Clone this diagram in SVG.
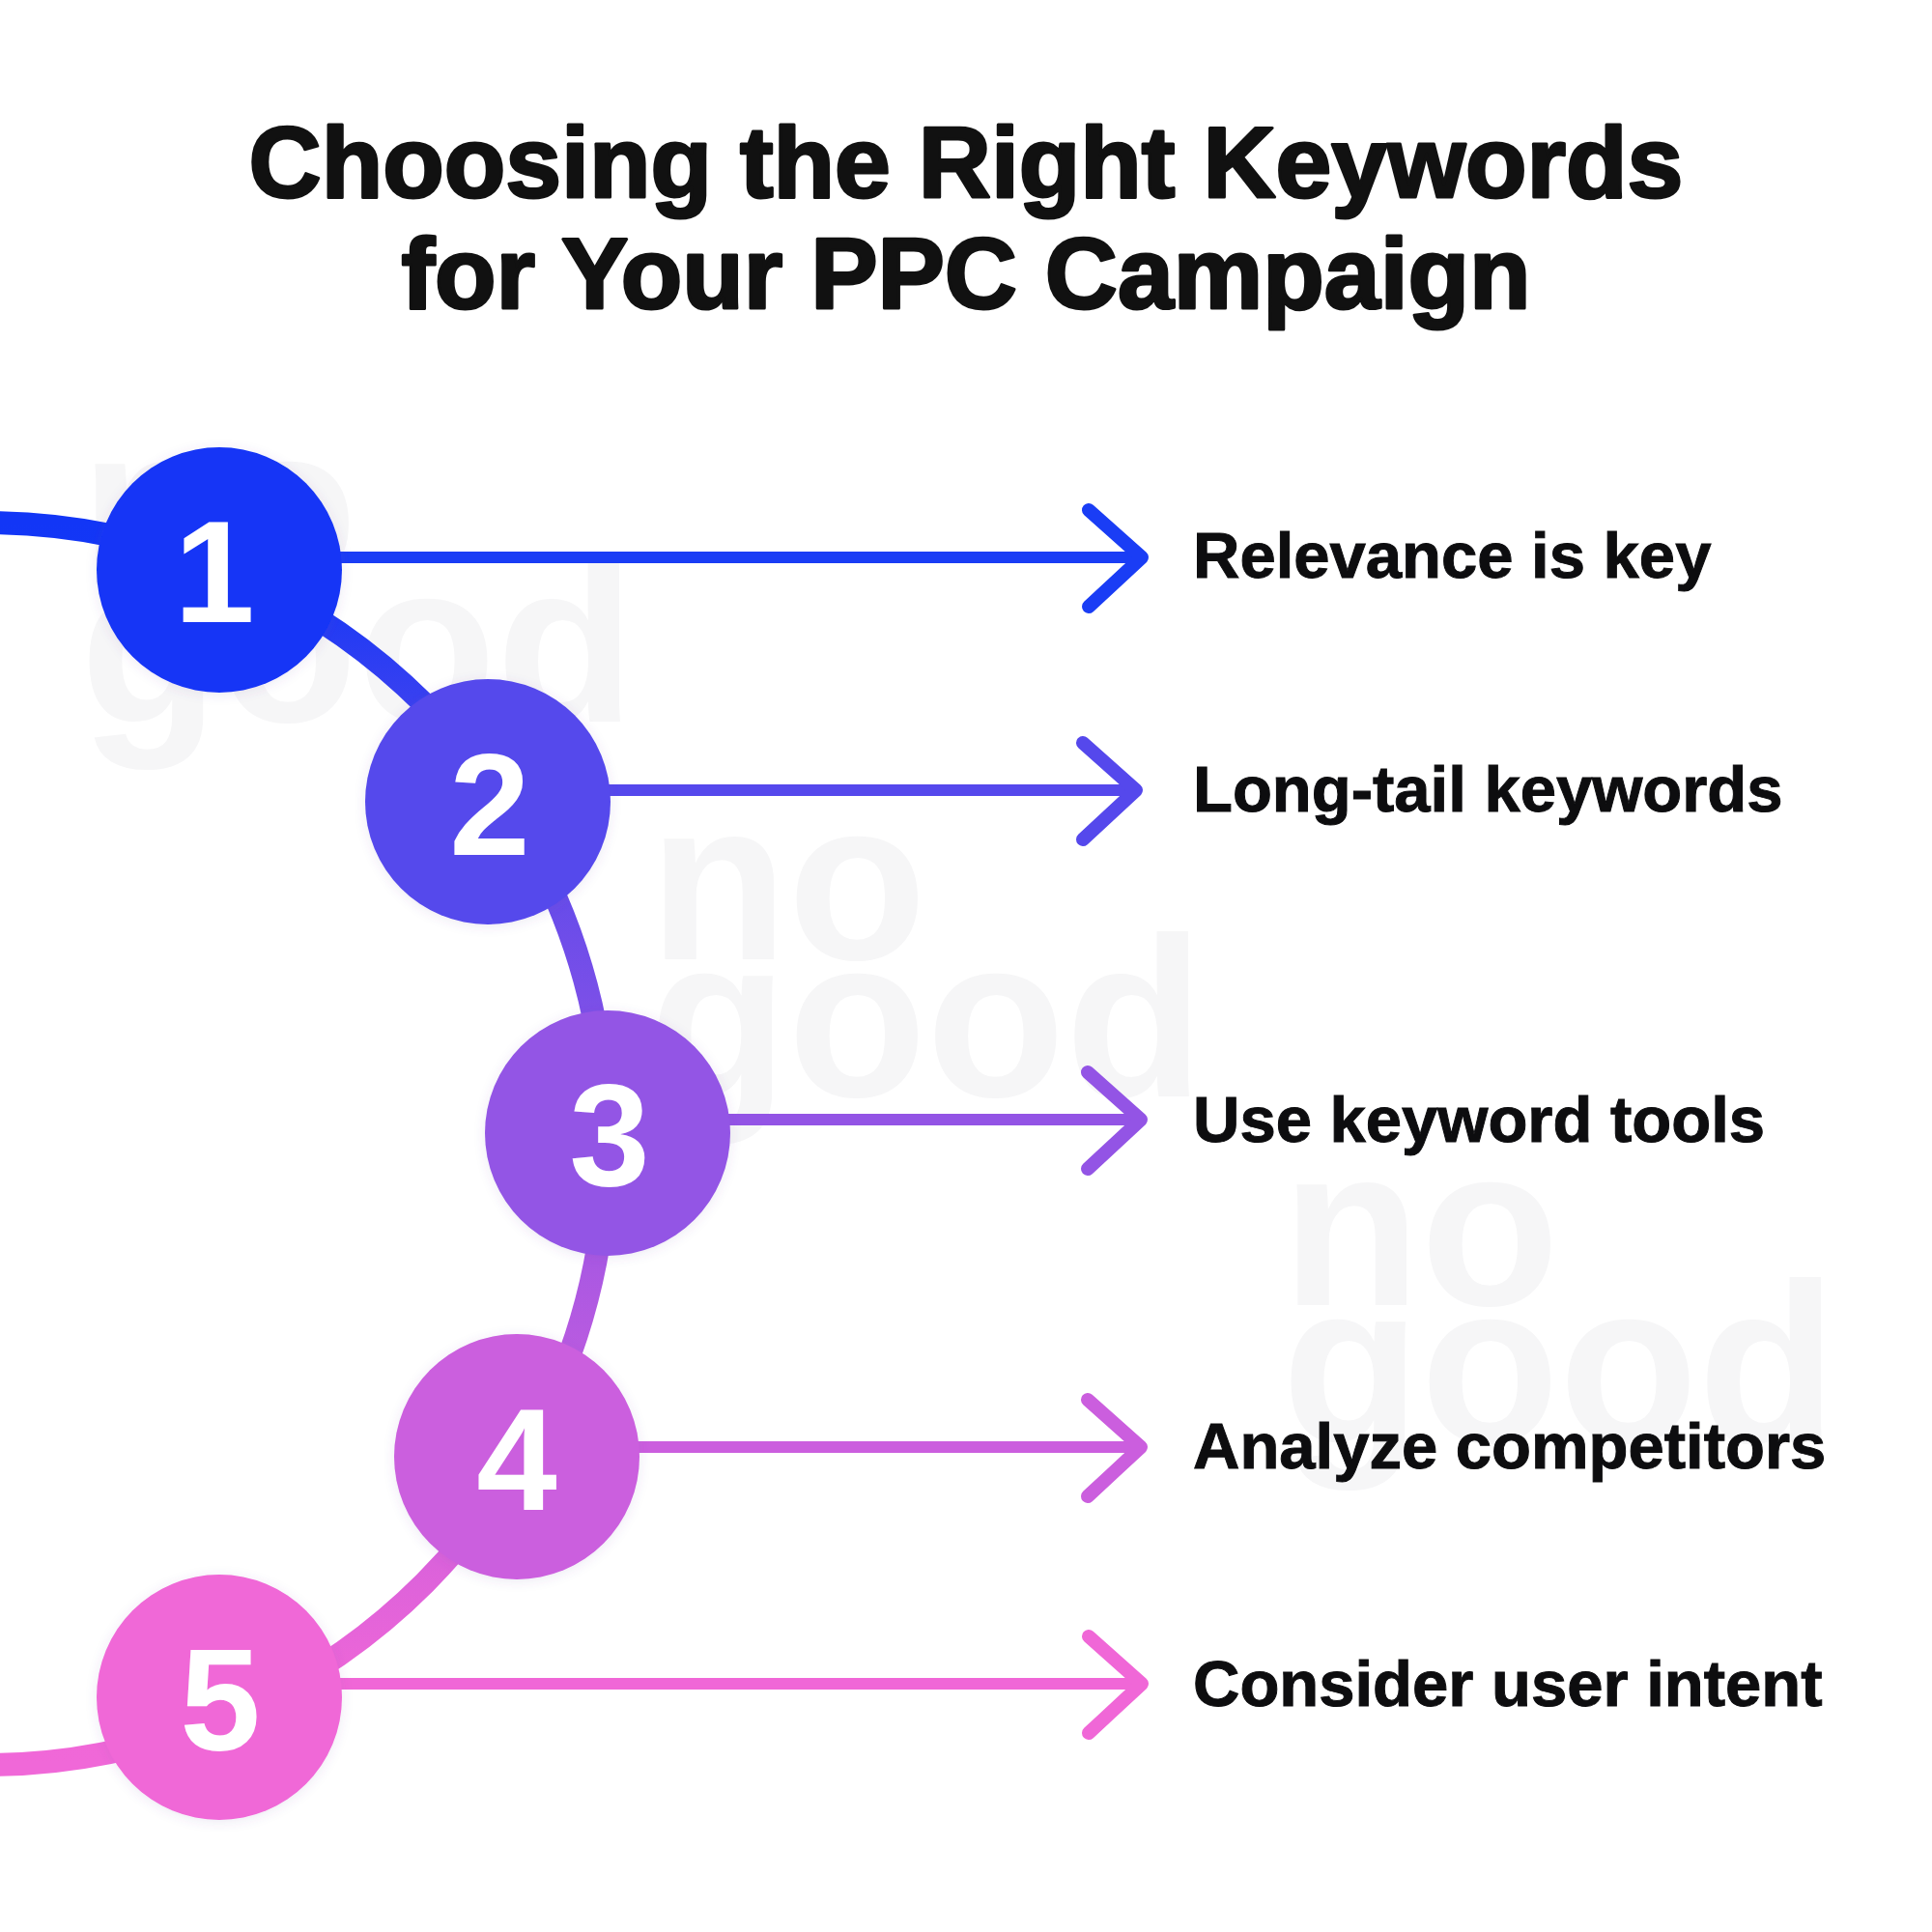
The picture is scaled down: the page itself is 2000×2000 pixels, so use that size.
<svg xmlns="http://www.w3.org/2000/svg" width="2000" height="2000" viewBox="0 0 2000 2000">
  <defs>
    <style>
      .title { font-family: "Liberation Sans", Arial, sans-serif; font-weight: 700; font-size: 104px; fill: #111111; stroke: #111111; stroke-width: 3; stroke-linejoin: round; text-anchor: middle; }
      .label { font-family: "Liberation Sans", Arial, sans-serif; font-weight: 700; font-size: 67px; fill: #0d0d0f; stroke: #0d0d0f; stroke-width: 1; }
      .num { font-family: "Liberation Sans", Arial, sans-serif; font-weight: 700; font-size: 150px; fill: #ffffff; text-anchor: middle; }
      .wm { font-family: "Liberation Sans", Arial, sans-serif; font-weight: 700; font-size: 235px; fill: #f6f6f7; }
      .conn { fill: none; stroke-width: 12; stroke-linecap: round; stroke-linejoin: round; }
      .head { fill: none; stroke-width: 14; stroke-linecap: round; stroke-linejoin: round; }
    </style>
    <linearGradient id="arcGrad" gradientUnits="userSpaceOnUse" x1="0" y1="541" x2="0" y2="1827">
      <stop offset="0" stop-color="#1236f6"/>
      <stop offset="0.04" stop-color="#1437f6"/>
      <stop offset="0.225" stop-color="#5548ec"/>
      <stop offset="0.49" stop-color="#9354e5"/>
      <stop offset="0.753" stop-color="#cb5ede"/>
      <stop offset="0.945" stop-color="#f067d7"/>
      <stop offset="1" stop-color="#f068d8"/>
    </linearGradient>
    <filter id="glow" x="-30%" y="-30%" width="160%" height="160%">
      <feDropShadow dx="0" dy="2" stdDeviation="6" flood-color="#6040a0" flood-opacity="0.12"/>
    </filter>
  </defs>

  <rect x="0" y="0" width="2000" height="2000" fill="#ffffff"/>

  <g id="watermarks">
    <text class="wm" x="83" y="605">no</text>
    <text class="wm" x="83" y="747">good</text>
    <text class="wm" x="672" y="993">no</text>
    <text class="wm" x="672" y="1135">good</text>
    <text class="wm" x="1327" y="1351">no</text>
    <text class="wm" x="1327" y="1493">good</text>
  </g>

  <g id="title">
    <text class="title" x="1000" y="204">Choosing the Right Keywords</text>
    <text class="title" x="1000" y="319">for Your PPC Campaign</text>
  </g>

  <g id="connectors">
    <circle cx="-15" cy="1184" r="643" fill="none" stroke="url(#arcGrad)" stroke-width="24"/>
    <g stroke="#1a3df5">
      <line class="conn" x1="227" y1="577" x2="1180" y2="577"/>
      <polyline class="head" points="1127,528 1182,577 1127,628"/>
    </g>
    <g stroke="#5548ec">
      <line class="conn" x1="505" y1="818" x2="1174" y2="818"/>
      <polyline class="head" points="1121,769 1176,818 1121,869"/>
    </g>
    <g stroke="#9354e5">
      <line class="conn" x1="629" y1="1159" x2="1179" y2="1159"/>
      <polyline class="head" points="1126,1110 1181,1159 1126,1210"/>
    </g>
    <g stroke="#cb5ede">
      <line class="conn" x1="535" y1="1498" x2="1179" y2="1498"/>
      <polyline class="head" points="1126,1449 1181,1498 1126,1549"/>
    </g>
    <g stroke="#f067d7">
      <line class="conn" x1="227" y1="1743" x2="1180" y2="1743"/>
      <polyline class="head" points="1127,1694 1182,1743 1127,1794"/>
    </g>
  </g>

  <g id="node1">
    <circle cx="227" cy="590" r="127" fill="#1236f6" filter="url(#glow)"/>
    <text class="num" x="222" y="644">1</text>
    <text class="label" x="1235" y="598">Relevance is key</text>
  </g>
  <g id="node2">
    <circle cx="505" cy="830" r="127" fill="#5548ec" filter="url(#glow)"/>
    <text class="num" x="507" y="885">2</text>
    <text class="label" x="1235" y="840">Long-tail keywords</text>
  </g>
  <g id="node3">
    <circle cx="629" cy="1173" r="127" fill="#9354e5" filter="url(#glow)"/>
    <text class="num" x="631" y="1227">3</text>
    <text class="label" x="1235" y="1182">Use keyword tools</text>
  </g>
  <g id="node4">
    <circle cx="535" cy="1508" r="127" fill="#cb5ede" filter="url(#glow)"/>
    <text class="num" x="535" y="1563">4</text>
    <text class="label" x="1235" y="1520">Analyze competitors</text>
  </g>
  <g id="node5">
    <circle cx="227" cy="1757" r="127" fill="#f067d7" filter="url(#glow)"/>
    <text class="num" x="228" y="1812">5</text>
    <text class="label" x="1235" y="1766">Consider user intent</text>
  </g>
</svg>
